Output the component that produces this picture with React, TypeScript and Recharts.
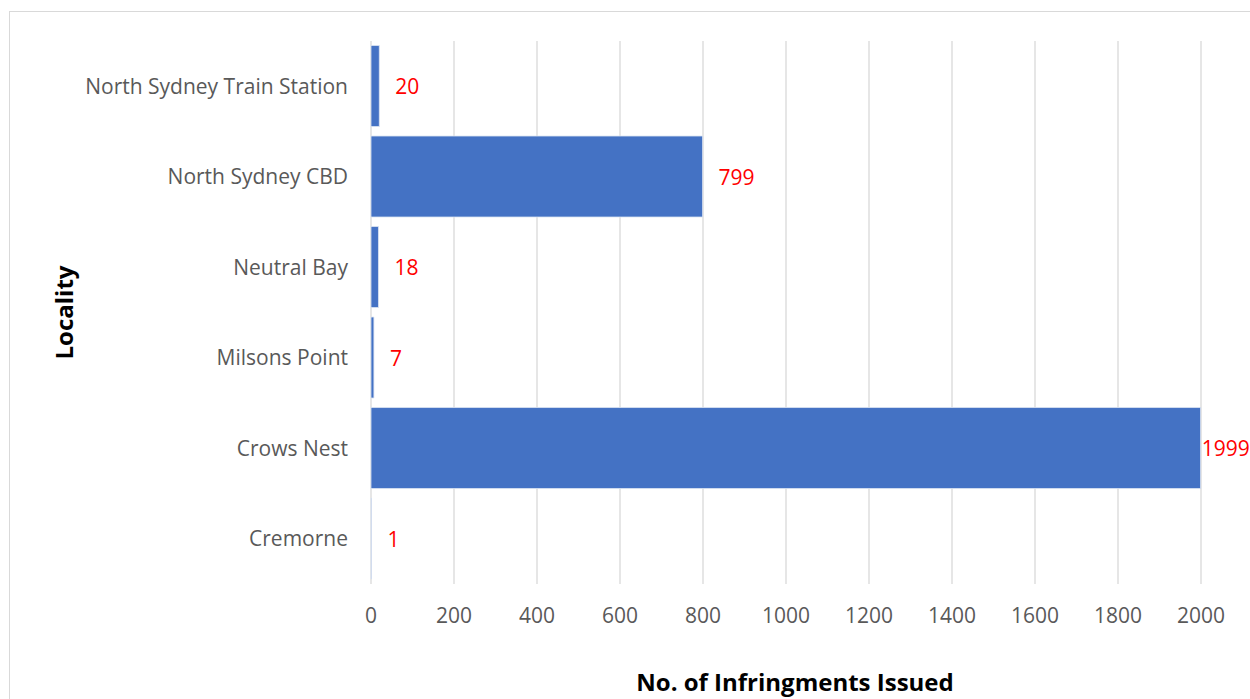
import React from 'react';
import { BarChart, Bar, XAxis, YAxis, CartesianGrid, LabelList, Label } from 'recharts';

const localities = ['North Sydney Train Station', 'North Sydney CBD', 'Neutral Bay', 'Milsons Point', 'Crows Nest', 'Cremorne'];
const infringements = [20, 799, 18, 7, 1999, 1];
const xTicks = [0, 200, 400, 600, 800, 1000, 1200, 1400, 1600, 1800, 2000];

const data = localities.map((name, i) => ({ name, value: infringements[i] }));

const FONT = '"Open Sans", Lato, sans-serif';
const W = 1250;
const H = 699;
const FS = 21;

const ValueLabel = (props: any) => {
  const { x, y, width, height, value } = props;
  const textW = String(value).length * FS * 0.575;
  let tx = x + width + 16;
  if (tx + textW > W) tx = Math.max(x + width - 2, W - textW);
  return (
    <text x={tx} y={y + height / 2} fill="#FF0000" fontSize={FS} fontFamily={FONT} dominantBaseline="central" textAnchor="start">
      {value}
    </text>
  );
};

export default function App() {
  return (
    <div style={{ position: 'absolute', left: 0, top: 0, width: W, height: H, overflow: 'hidden', background: '#fff' }}>
      <div style={{ position: 'absolute', left: 9, top: 11, width: 1400, height: 900, border: '1.5px solid #d9d9d9', boxSizing: 'border-box' }} />
      <div style={{ position: 'absolute', left: 0, top: 0 }}>
        <BarChart
          width={W}
          height={H}
          data={data}
          layout="vertical"
          margin={{ top: 41, right: 49, bottom: 0, left: 0 }}
          barCategoryGap="5%"
        >
          <CartesianGrid horizontal={false} vertical={true} stroke="#d9d9d9" strokeWidth={1.3} />
          <XAxis
            type="number"
            domain={[0, 2000]}
            ticks={xTicks}
            axisLine={false}
            tickLine={false}
            tickMargin={18}
            tick={{ fill: '#595959', fontSize: FS, fontFamily: FONT }}
            height={115}
          >
            <Label
              content={(p: any) => {
                const vb = p.viewBox;
                return (
                  <text x={vb.x + vb.width / 2 + 9} y={vb.y + 97} textAnchor="middle" dominantBaseline="central" fontSize={24} fontWeight="bold" fill="#000" fontFamily={FONT}>
                    No. of Infringments Issued
                  </text>
                );
              }}
            />
          </XAxis>
          <YAxis
            type="category"
            dataKey="name"
            width={371}
            axisLine={false}
            tickLine={false}
            tickMargin={17}
            tick={{ fill: '#595959', fontSize: FS, fontFamily: FONT }}
          >
            <Label
              content={(p: any) => {
                const vb = p.viewBox;
                const cx = vb.x + 63;
                const cy = vb.y + vb.height / 2;
                return (
                  <text x={cx} y={cy} transform={`rotate(-90 ${cx} ${cy})`} textAnchor="middle" dominantBaseline="central" fontSize={24} fontWeight="bold" fill="#000" fontFamily={FONT}>
                    Locality
                  </text>
                );
              }}
            />
          </YAxis>
          <Bar dataKey="value" fill="#4472C4" stroke="#dce4f2" strokeWidth={0.8} isAnimationActive={false}>
            <LabelList dataKey="value" content={ValueLabel} />
          </Bar>
        </BarChart>
      </div>
    </div>
  );
}
